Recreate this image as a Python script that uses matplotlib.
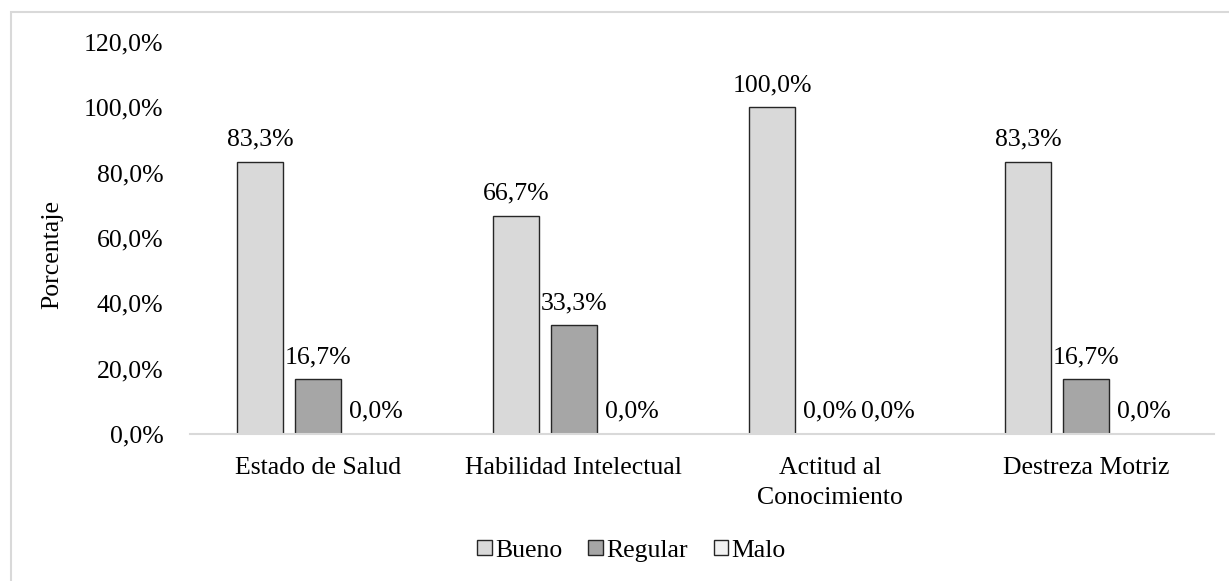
import numpy as np
import matplotlib
matplotlib.use("Agg")
import matplotlib.pyplot as plt
from matplotlib.patches import Rectangle, Patch

categories = ["Estado de Salud", "Habilidad Intelectual", "Actitud al\nConocimiento", "Destreza Motriz"]
series_names = ["Bueno", "Regular", "Malo"]
bueno = [83.3, 66.7, 100.0, 83.3]
regular = [16.7, 33.3, 0.0, 16.7]
malo = [0.0, 0.0, 0.0, 0.0]
colors = ["#d9d9d9", "#a6a6a6", "#f2f2f2"]
y_ticks = [0, 20, 40, 60, 80, 100, 120]

plt.rcParams["font.family"] = ["Liberation Serif", "DejaVu Serif"]
fs = 18.5

fig = plt.figure(figsize=(12.29, 5.81), dpi=100)
# light gray frame around the chart area
fig.patches.append(Rectangle((0.009, -0.05), 1.2, 1.03, transform=fig.transFigure,
                             fill=False, edgecolor="#d9d9d9", linewidth=1.5))

ax = fig.add_axes([0.1546, 0.253, 0.833, 0.675])

x = np.arange(len(categories))
width = 0.18
step = 0.225

for i, (name, vals) in enumerate(zip(series_names, [bueno, regular, malo])):
    pos = x + (i - 1) * step
    ax.bar(pos, vals, width, color=colors[i], edgecolor="#262626",
           linewidth=1.0 if name != "Malo" else 0)
    for xp, v in zip(pos, vals):
        ax.annotate(f"{v:.1f}%".replace(".", ","), (xp, v), xytext=(0, 8),
                    textcoords="offset points", ha="center", va="bottom", fontsize=fs)

ax.set_xlim(-0.5, 3.5)
ax.set_ylim(0, 120)
ax.set_yticks(y_ticks)
ax.set_yticklabels([f"{t:.1f}%".replace(".", ",") for t in y_ticks], fontsize=fs)
ax.set_xticks(x)
ax.set_xticklabels(categories, fontsize=fs, linespacing=1.45)
ax.tick_params(axis="y", length=0, pad=19)
ax.tick_params(axis="x", length=0, pad=16.5)
for s in ["top", "right", "left"]:
    ax.spines[s].set_visible(False)
ax.spines["bottom"].set_color("#d9d9d9")
ax.spines["bottom"].set_linewidth(1.5)

ax.set_ylabel("Porcentaje", fontsize=fs)
ax.yaxis.set_label_coords(-0.124, 0.457)

handles = [Patch(facecolor=c, edgecolor="#262626", linewidth=1.0) for c in colors]
fig.legend(handles, series_names, loc="center", bbox_to_anchor=(0.514, 0.052), ncol=3,
           frameon=False, fontsize=fs, handlelength=0.55, handleheight=0.55,
           handletextpad=0.15, columnspacing=1.0)

fig.savefig("out.png", dpi=100)
